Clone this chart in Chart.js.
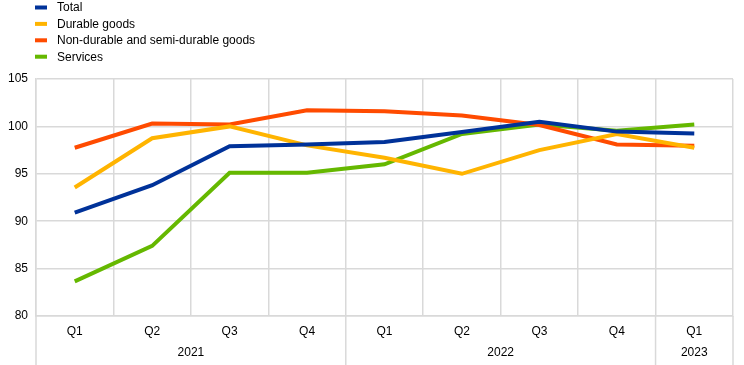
<!DOCTYPE html>
<html lang="en">
<head>
    <meta charset="UTF-8">
    <title>Private consumption by component</title>
    <script src="https://cdn.jsdelivr.net/npm/chart.js"></script>
    <style>
        html, body {
            margin: 0;
            padding: 0;
            background: #fff;
        }
        #wrap {
            width: 744px;
            height: 365px;
            position: relative;
        }
    </style>
</head>
<body>
<div id="wrap"><canvas id="consChart"></canvas></div>
<script>
    // quarters on the x axis, grouped by year
    const quarters = ['Q1', 'Q2', 'Q3', 'Q4', 'Q1', 'Q2', 'Q3', 'Q4', 'Q1'];
    const years = ['2021', '2022', '2023'];
    const yearSizes = [4, 4, 1];   // number of quarters in each year group

    const total = [90.9, 93.8, 97.9, 98.1, 98.35, 99.4, 100.5, 99.45, 99.25];
    const durable = [93.55, 98.75, 100.0, 98.0, 96.7, 95.0, 97.5, 99.2, 97.75];
    const nonDurable = [97.75, 100.3, 100.2, 101.7, 101.6, 101.15, 100.15, 98.1, 97.95];
    const services = [83.65, 87.4, 95.1, 95.1, 96.0, 99.2, 100.2, 99.55, 100.2];

    const gridColor = '#d9d9d9';
    const font = 'Liberation Sans, Arial, sans-serif';

    // legend stacked in the top-left corner
    const legendPlugin = {
        id: 'stackedLegend',
        afterDraw(chart) {
            const ctx = chart.ctx;
            ctx.save();
            ctx.font = '12px ' + font;
            ctx.textBaseline = 'middle';
            chart.data.datasets.forEach((ds, i) => {
                const y = 7.5 + i * 16.4;
                ctx.fillStyle = ds.borderColor;
                ctx.fillRect(35, y - 2, 12, 4);
                ctx.fillStyle = '#000';
                ctx.fillText(ds.label, 57, y + 0.5);
            });
            ctx.restore();
        }
    };

    // year labels under the quarters, plus the long separator lines
    const yearPlugin = {
        id: 'yearAxis',
        afterDraw(chart) {
            const ctx = chart.ctx;
            const x = chart.scales.x;
            const bottom = chart.chartArea.bottom;
            const half = (x.getPixelForValue(1) - x.getPixelForValue(0)) / 2;
            ctx.save();
            ctx.strokeStyle = gridColor;
            ctx.lineWidth = 1.5;
            ctx.font = '12px ' + font;
            ctx.fillStyle = '#000';
            ctx.textAlign = 'center';
            ctx.textBaseline = 'middle';
            let start = 0;
            const edges = [x.getPixelForValue(0) - half];
            years.forEach((yr, i) => {
                const end = start + yearSizes[i] - 1;
                const left = x.getPixelForValue(start) - half;
                const right = x.getPixelForValue(end) + half;
                edges.push(right);
                ctx.fillText(yr, (left + right) / 2, 353);
                start = end + 1;
            });
            edges.forEach(px => {
                ctx.beginPath();
                ctx.moveTo(px, bottom);
                ctx.lineTo(px, 365);
                ctx.stroke();
            });
            ctx.restore();
        }
    };

    function series(label, data, color) {
        return {
            label: label,
            data: data,
            borderColor: color,
            backgroundColor: color,
            borderWidth: 4,
            pointRadius: 0,
            tension: 0,
            fill: false
        };
    }

    const ctx = document.getElementById('consChart').getContext('2d');
    new Chart(ctx, {
        type: 'line',
        data: {
            labels: quarters,
            datasets: [
                series('Total', total, '#003299'),
                series('Durable goods', durable, '#ffb400'),
                series('Non-durable and semi-durable goods', nonDurable, '#ff4b00'),
                series('Services', services, '#65b800')
            ]
        },
        options: {
            responsive: true,
            maintainAspectRatio: false,
            animation: false,
            layout: {
                padding: { top: 79, right: 11, left: 0, bottom: 0 }
            },
            plugins: {
                legend: { display: false },
                tooltip: { enabled: false }
            },
            scales: {
                x: {
                    offset: true,
                    grid: {
                        offset: true,
                        color: gridColor,
                        lineWidth: 1.5,
                        drawTicks: false
                    },
                    border: { color: gridColor, width: 1.5 },
                    ticks: {
                        color: '#000',
                        font: { family: font, size: 12 },
                        padding: 8,
                        maxRotation: 0,
                        autoSkip: false
                    },
                    afterFit(scale) { scale.height = 49; }
                },
                y: {
                    min: 80,
                    max: 105,
                    grid: {
                        color: gridColor,
                        lineWidth: 1.5,
                        drawTicks: false
                    },
                    border: { color: gridColor, width: 1.5 },
                    ticks: {
                        stepSize: 5,
                        color: '#000',
                        font: { family: font, size: 12 },
                        padding: 8
                    },
                    afterFit(scale) { scale.width = 36; }
                }
            }
        },
        plugins: [legendPlugin, yearPlugin]
    });
</script>
</body>
</html>
